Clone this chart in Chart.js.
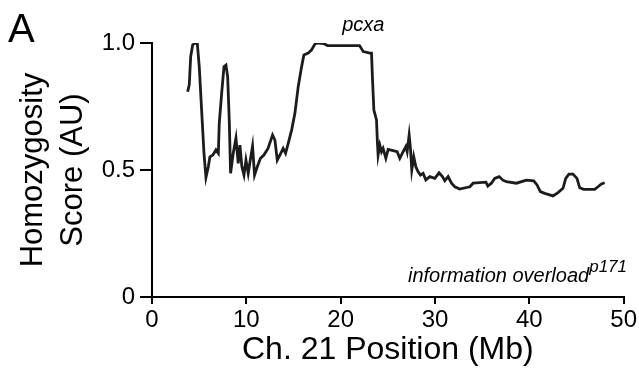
<!DOCTYPE html>
<html>
<head>
<meta charset="utf-8">
<script src="https://cdn.jsdelivr.net/npm/chart.js@4/dist/chart.umd.min.js"></script>
<style>
  body { margin: 0; background: #fff; }
  canvas { display: block; }
</style>
</head>
<body>
<canvas id="grafico" width="639" height="372"></canvas>
<script>
// posicao no cromossomo 21 (Mb) e score de homozigosidade
const posicao = [
  3.78, 3.95, 4.1, 4.31, 4.55, 4.8, 5.01, 5.26, 5.51, 5.72,
  5.97, 6.14, 6.46, 6.78, 7.03, 7.13, 7.38, 7.63, 7.84, 8.02,
  8.19, 8.33, 8.61, 8.9, 9.14, 9.32, 9.53, 9.75, 9.96, 10.2,
  10.45, 10.66, 10.87, 11.16, 11.5, 11.86, 12.3, 12.78, 13.03, 13.28,
  13.56, 13.9, 14.16, 14.44, 14.8, 15.15, 15.5, 15.86, 16.1, 16.56,
  16.9, 17.27, 17.6, 18.2, 18.6, 19.4, 20.5, 22.0, 22.4, 23.1,
  23.27, 23.38, 23.52, 23.8, 23.9, 23.97, 24.15, 24.33, 24.5, 24.79,
  25.03, 25.56, 25.99, 26.27, 26.62, 26.91, 27.05, 27.26, 27.4, 27.54,
  27.75, 27.97, 28.21, 28.46, 28.74, 29.03, 29.45, 29.98, 30.43, 30.79,
  31.04, 31.39, 31.75, 32.1, 32.45, 32.6, 33.7, 34.04, 35.4, 35.6,
  35.98, 36.33, 36.8, 37.2, 37.57, 38.63, 39.69, 40.47, 40.82, 41.17,
  41.63, 42.51, 43.04, 43.57, 43.86, 44.2, 44.63, 45.05, 45.34, 45.76,
  46.93, 47.28, 47.64, 47.99
];
const score = [
  0.808, 0.835, 0.946, 0.992, 1.0, 0.999, 0.907, 0.736, 0.566, 0.471,
  0.513, 0.552, 0.559, 0.579, 0.566, 0.684, 0.80, 0.907, 0.913, 0.867,
  0.697, 0.487, 0.566, 0.625, 0.526, 0.598, 0.513, 0.48, 0.539, 0.487,
  0.546, 0.594, 0.48, 0.513, 0.546, 0.559, 0.585, 0.638, 0.618, 0.539,
  0.559, 0.585, 0.566, 0.605, 0.657, 0.723, 0.828, 0.907, 0.953, 0.96,
  0.972, 0.996, 1.0, 0.998, 0.99, 0.99, 0.99, 0.99, 0.966, 0.96,
  0.96, 0.854, 0.736, 0.697, 0.605, 0.559, 0.598, 0.572, 0.585, 0.546,
  0.581, 0.576, 0.572, 0.546, 0.572, 0.592, 0.572, 0.638, 0.585, 0.5,
  0.552, 0.513, 0.493, 0.48, 0.487, 0.461, 0.474, 0.467, 0.489, 0.474,
  0.458, 0.474, 0.448, 0.434, 0.428, 0.425, 0.434, 0.448, 0.452, 0.437,
  0.448, 0.467, 0.474, 0.46, 0.454, 0.448, 0.46, 0.457, 0.441, 0.415,
  0.408, 0.398, 0.411, 0.428, 0.467, 0.484, 0.484, 0.467, 0.43, 0.424,
  0.424, 0.434, 0.445, 0.45
];

const ticksX = [0, 10, 20, 30, 40, 50];
const ticksY = [0, 0.5, 1.0];

const fonte = "'Liberation Sans', Arial, Helvetica, sans-serif";

const pontos = posicao.map(function (x, i) {
  return { x: x, y: score[i] };
});

// textos extras: painel "A", pcxa e information overload
const anotacoes = {
  id: 'anotacoes',
  afterDraw: function (chart) {
    const ctx = chart.ctx;
    const sx = chart.scales.x;
    ctx.save();
    ctx.fillStyle = '#000';
    ctx.textBaseline = 'alphabetic';

    ctx.font = '40px ' + fonte;
    ctx.textAlign = 'left';
    ctx.fillText('A', 8, 42);

    ctx.font = 'italic 20px ' + fonte;
    ctx.textAlign = 'center';
    ctx.fillText('pcxa', sx.getPixelForValue(22.4), 31);

    ctx.font = 'italic 17px ' + fonte;
    const sup = 'p171';
    const larguraSup = ctx.measureText(sup).width;
    ctx.textAlign = 'right';
    ctx.fillText(sup, 627, 272);
    ctx.font = 'italic 20px ' + fonte;
    ctx.fillText('information overload', 627 - larguraSup, 282);
    ctx.restore();
  }
};

const config = {
  type: 'scatter',
  data: {
    datasets: [{
      data: pontos,
      showLine: true,
      borderColor: '#1c1c1c',
      borderWidth: 2.8,
      pointRadius: 0,
      tension: 0
    }]
  },
  options: {
    responsive: false,
    animation: false,
    layout: {
      padding: { top: 43, right: 15, left: 0, bottom: 0 }
    },
    plugins: {
      legend: { display: false },
      tooltip: { enabled: false }
    },
    scales: {
      x: {
        type: 'linear',
        min: 0,
        max: 50,
        afterFit: function (scale) { scale.height = 75; },
        afterBuildTicks: function (scale) {
          scale.ticks = ticksX.map(function (v) { return { value: v }; });
        },
        border: { display: true, color: '#000', width: 2 },
        grid: { drawOnChartArea: false, drawTicks: true, tickLength: 7, color: '#000', lineWidth: 2 },
        ticks: {
          color: '#000',
          padding: 2,
          maxRotation: 0,
          font: { family: fonte, size: 24 },
          callback: function (v) { return String(v); }
        },
        title: {
          display: true,
          text: 'Ch. 21 Position (Mb)',
          color: '#000',
          font: { family: fonte, size: 32 },
          padding: { top: 0, bottom: 3 }
        }
      },
      y: {
        type: 'linear',
        min: 0,
        max: 1,
        afterFit: function (scale) { scale.width = 152; },
        afterBuildTicks: function (scale) {
          scale.ticks = ticksY.map(function (v) { return { value: v }; });
        },
        border: { display: true, color: '#000', width: 2 },
        grid: { drawOnChartArea: false, drawTicks: true, tickLength: 12, color: '#000', lineWidth: 2 },
        ticks: {
          color: '#000',
          padding: 5,
          font: { family: fonte, size: 24 },
          callback: function (v) { return v === 0 ? '0' : v.toFixed(1); }
        },
        title: {
          display: true,
          text: ['Homozygosity', 'Score (AU)'],
          color: '#000',
          font: { family: fonte, size: 31, lineHeight: 1.3 },
          padding: { top: 13, bottom: 0 }
        }
      }
    }
  },
  plugins: [anotacoes]
};

const graficoDash = new Chart(document.getElementById('grafico'), config);
</script>
</body>
</html>
